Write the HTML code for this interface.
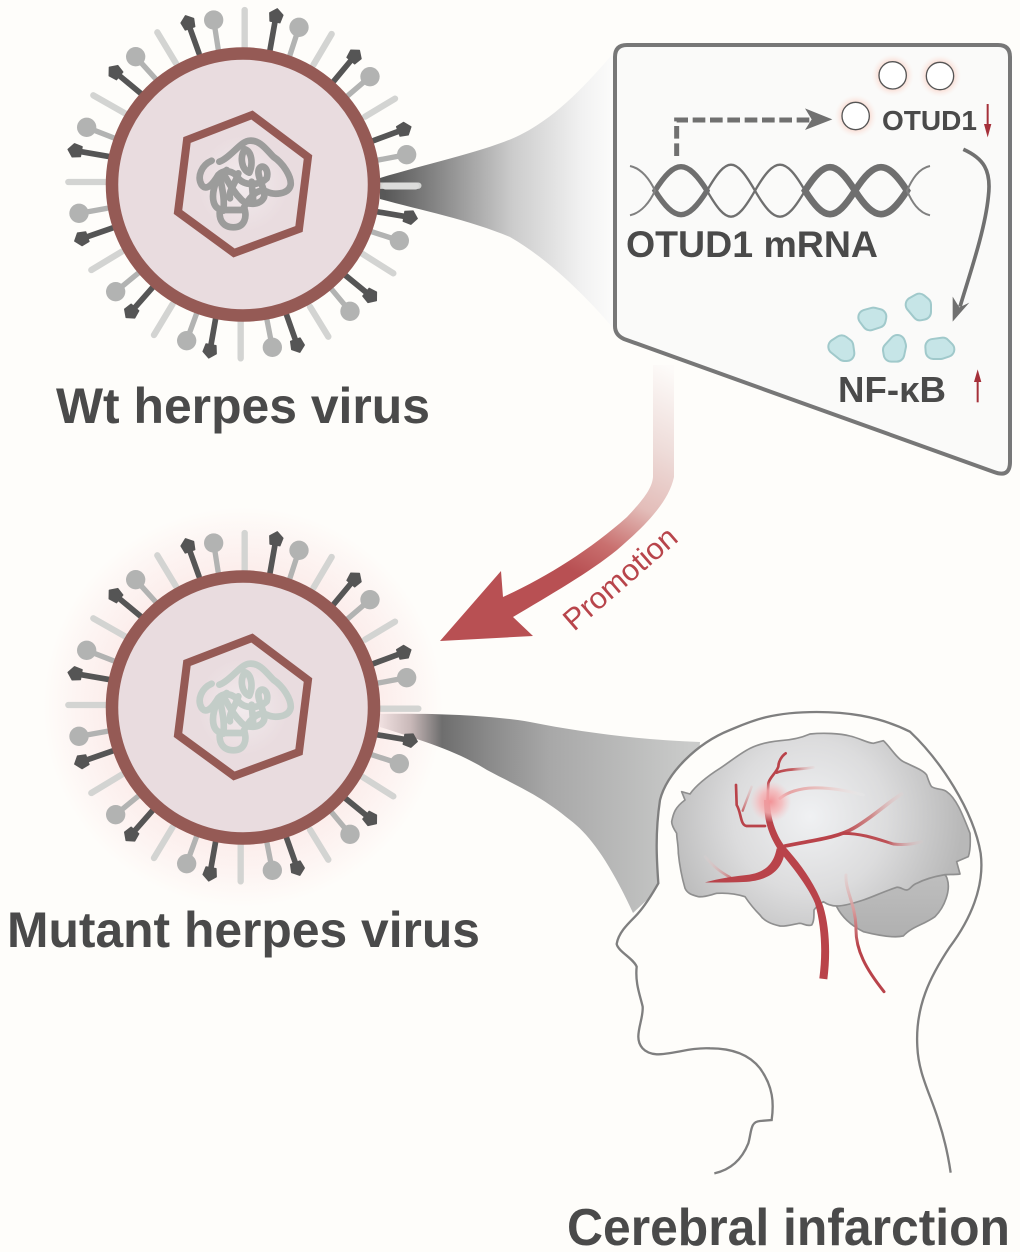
<!DOCTYPE html>
<html><head><meta charset="utf-8"><style>
html,body{margin:0;padding:0;background:#fefdfa}
svg{display:block;filter:blur(.35px)}
text{font-family:"Liberation Sans",sans-serif}
</style></head><body>
<svg width="1020" height="1252" viewBox="0 0 1020 1252" xmlns="http://www.w3.org/2000/svg">
<defs>
<linearGradient id="fan1" gradientUnits="userSpaceOnUse" x1="385" y1="0" x2="618" y2="0">
<stop offset="0" stop-color="#585858"/><stop offset=".25" stop-color="#8c8c8c"/><stop offset=".55" stop-color="#cccccc"/><stop offset=".85" stop-color="#f2f2f2"/><stop offset="1" stop-color="#fdfdfc"/>
</linearGradient>
<linearGradient id="fan2" gradientUnits="userSpaceOnUse" x1="380" y1="0" x2="690" y2="0">
<stop offset="0" stop-color="#f0e0e0"/><stop offset=".1" stop-color="#c8b8b8"/><stop offset=".2" stop-color="#6e6e6e"/><stop offset=".35" stop-color="#8a8a8a"/><stop offset=".55" stop-color="#a8a8a8"/><stop offset="1" stop-color="#cacbca"/>
</linearGradient>
<linearGradient id="arr" gradientUnits="userSpaceOnUse" x1="664" y1="365" x2="540" y2="610">
<stop offset="0" stop-color="#fdfbf9"/><stop offset=".28" stop-color="#eedcd9"/><stop offset=".5" stop-color="#e3bdb9"/><stop offset=".68" stop-color="#c9706f"/><stop offset=".82" stop-color="#b85053"/><stop offset="1" stop-color="#b85053"/>
</linearGradient>
<radialGradient id="glow" cx="243" cy="707" r="200" gradientUnits="userSpaceOnUse">
<stop offset=".65" stop-color="#fcecea"/><stop offset=".85" stop-color="#fdf5f3"/><stop offset="1" stop-color="#fefdfa"/>
</radialGradient>
<radialGradient id="inner" cx=".5" cy=".5" r=".5">
<stop offset="0" stop-color="#f2ebed"/><stop offset=".7" stop-color="#e9dcdf"/><stop offset="1" stop-color="#e9dcdf"/>
</radialGradient>
<radialGradient id="brainG" gradientUnits="userSpaceOnUse" cx="600" cy="290" r="460">
<stop offset="0" stop-color="#f0f1f3"/><stop offset=".5" stop-color="#dcdcdd"/><stop offset="1" stop-color="#b8b8b8"/>
</radialGradient>
<linearGradient id="cereb" gradientUnits="userSpaceOnUse" x1="850" y1="480" x2="850" y2="650">
<stop offset="0" stop-color="#bdbdbd"/><stop offset="1" stop-color="#b0b0b0"/>
</linearGradient>
<radialGradient id="hot" cx=".5" cy=".5" r=".5">
<stop offset="0" stop-color="#f29397"/><stop offset=".55" stop-color="#f6b6b8" stop-opacity=".8"/><stop offset="1" stop-color="#f6c8ca" stop-opacity="0"/>
</radialGradient>
<radialGradient id="pk" cx=".5" cy=".5" r=".5">
<stop offset=".6" stop-color="#f8d6cc"/><stop offset="1" stop-color="#fbf0ec" stop-opacity="0"/>
</radialGradient>
<linearGradient id="b1" gradientUnits="userSpaceOnUse" x1="500" y1="0" x2="615" y2="0"><stop offset="0" stop-color="#b9434a"/><stop offset=".4" stop-color="#c25a5e"/><stop offset="1" stop-color="#e8c8c8" stop-opacity=".2"/></linearGradient>
<linearGradient id="b2" gradientUnits="userSpaceOnUse" x1="510" y1="0" x2="765" y2="0"><stop offset="0" stop-color="#e59a9c"/><stop offset=".5" stop-color="#e8c4c2"/><stop offset="1" stop-color="#eee" stop-opacity=".2"/></linearGradient>
<linearGradient id="b3" gradientUnits="userSpaceOnUse" x1="690" y1="0" x2="880" y2="0"><stop offset="0" stop-color="#b9434a"/><stop offset=".5" stop-color="#cf8a8a"/><stop offset="1" stop-color="#e8d0d0" stop-opacity=".2"/></linearGradient>
<linearGradient id="b4" gradientUnits="userSpaceOnUse" x1="700" y1="0" x2="940" y2="0"><stop offset="0" stop-color="#b9434a"/><stop offset=".55" stop-color="#bd5156"/><stop offset="1" stop-color="#e8c8c8" stop-opacity=".1"/></linearGradient>
<linearGradient id="b6" gradientUnits="userSpaceOnUse" x1="370" y1="0" x2="280" y2="0"><stop offset="0" stop-color="#c86a6c"/><stop offset="1" stop-color="#eedada" stop-opacity=".1"/></linearGradient>
<linearGradient id="b7" gradientUnits="userSpaceOnUse" x1="0" y1="460" x2="0" y2="680"><stop offset="0" stop-color="#e8c0bf" stop-opacity=".3"/><stop offset=".5" stop-color="#d89c9c"/><stop offset="1" stop-color="#b9434a"/></linearGradient>
<linearGradient id="b8" gradientUnits="userSpaceOnUse" x1="0" y1="280" x2="0" y2="190"><stop offset="0" stop-color="#c25a5e"/><stop offset="1" stop-color="#e8c8c8" stop-opacity=".3"/></linearGradient>
<marker id="pent" markerUnits="userSpaceOnUse" orient="auto" viewBox="-30 -30 60 60" markerWidth="60" markerHeight="60" refX="0" refY="0">
<path d="M-18 -15 L6 -20 L22 0 L6 20 L-18 15Z" fill="#555" stroke="#555" stroke-width="4" stroke-linejoin="round"/>
</marker>
<g id="virus">
<g transform="translate(50 0) scale(.33333)" stroke-linecap="round">
<g stroke="#d3d4d2" stroke-width="19" fill="none">
<path d="M584 30V150M845 102L790 195M1035 296L945 350M1105 557H985M1030 820L935 760M835 1010L780 920M572 1075V960M312 1005L368 912M124 810L215 755M55 546H170M130 286L225 340M322 97L378 190"/>
</g>
<g stroke="#b2b3b2" stroke-width="16" fill="none">
<path d="M491 60L505 150M747 82L720 165M960 230L890 290M1070 464L985 480M1048 722L965 695M900 934L845 868M667 1042L650 955M410 1022L440 940M197 875L270 815M87 640L170 625M110 382L195 415M257 170L320 240"/>
</g>
<g fill="#b2b3b2">
<circle cx="491" cy="60" r="29"/><circle cx="747" cy="82" r="29"/><circle cx="960" cy="230" r="29"/><circle cx="1070" cy="464" r="29"/><circle cx="1048" cy="722" r="29"/><circle cx="900" cy="934" r="29"/><circle cx="667" cy="1042" r="29"/><circle cx="410" cy="1022" r="29"/><circle cx="197" cy="875" r="29"/><circle cx="87" cy="640" r="29"/><circle cx="110" cy="382" r="29"/><circle cx="257" cy="170" r="29"/>
</g>
<g stroke="#555" stroke-width="17" fill="none" marker-end="url(#pent)">
<line x1="447" y1="160" x2="414" y2="68"/><line x1="660" y1="150" x2="678" y2="48"/><line x1="850" y1="245" x2="914" y2="168"/><line x1="970" y1="422" x2="1062" y2="388"/><line x1="980" y1="635" x2="1080" y2="652"/><line x1="885" y1="825" x2="962" y2="888"/><line x1="708" y1="940" x2="742" y2="1036"/><line x1="497" y1="955" x2="480" y2="1052"/><line x1="308" y1="862" x2="243" y2="936"/><line x1="190" y1="683" x2="95" y2="716"/><line x1="180" y1="470" x2="76" y2="452"/><line x1="272" y1="280" x2="195" y2="216"/>
</g>
</g>
<circle cx="243" cy="184.5" r="131" fill="#e9dcdf" stroke="#955a55" stroke-width="12.5"/>
<path d="M252 115L308 157L299 229L234 253L178 212L187 140Z" fill="url(#inner)" stroke="#955a55" stroke-width="8" stroke-linejoin="miter"/>
<g transform="translate(170 120) scale(.33333)" fill="none" stroke="currentColor" stroke-width="20" stroke-linecap="round" stroke-linejoin="round">
<path d="M125 122C95 135 80 170 95 195C110 215 130 190 145 165C160 148 190 150 205 175C225 200 270 195 290 175C298 150 280 130 268 145C255 165 290 210 282 232C270 258 230 255 215 240C190 215 180 195 160 160"/>
<path d="M148 125C180 115 215 60 240 62C270 60 290 90 310 110C340 130 365 170 362 195C355 225 310 225 290 215C270 205 245 220 222 262C232 290 225 322 190 322C160 322 145 300 150 268"/>
<path d="M150 268C130 262 125 235 132 205C138 180 150 165 170 150M225 88C208 110 215 150 238 158C250 130 245 95 225 88ZM205 160C195 195 175 210 180 235M150 170C155 200 165 235 160 272M150 270H215M245 185L250 245"/>
</g>
</g>
</defs>

<rect width="1020" height="1252" fill="#fefdfa"/>

<!-- fans -->
<path d="M380 178C430 163 490 150 520 135C560 115 590 80 618 48L618 334C590 300 550 260 510 237C470 220 420 210 380 199Z" fill="url(#fan1)"/>
<circle cx="243" cy="707" r="200" fill="url(#glow)"/>
<path d="M380 714C430 713 490 715 530 722C580 732 640 740 700 742L690 860L633 913C610 863 590 835 570 820C540 795 515 785 487 770C455 750 420 740 380 727Z" fill="url(#fan2)"/>

<!-- viruses -->
<use href="#virus" style="color:#9c9c9b"/>
<use href="#virus" y="523" style="color:#c3cdc8"/>
<rect x="382" y="182.500" width="37" height="7" rx="3.500" fill="#dcdcdb"/>

<!-- inset box -->
<path d="M627 45H998Q1010 45 1010 57V462Q1010 478 994 472L624 339Q615 335 615 326V57Q615 45 627 45Z" fill="#fafaf9" stroke="#777" stroke-width="4"/>
<g transform="translate(600 30) scale(.33333)">
<circle cx="878" cy="136" r="64" fill="url(#pk)"/>
<circle cx="1020" cy="138" r="64" fill="url(#pk)"/>
<circle cx="767" cy="258" r="64" fill="url(#pk)"/>
<circle cx="878" cy="136" r="41" fill="#fff" stroke="#555" stroke-width="4"/>
<circle cx="1020" cy="138" r="41" fill="#fff" stroke="#555" stroke-width="4"/>
<circle cx="767" cy="258" r="41" fill="#fff" stroke="#555" stroke-width="4"/>
<!-- dashed arrow -->
<path d="M230 378V270H640" fill="none" stroke="#707070" stroke-width="15" stroke-dasharray="38 14"/>
<path d="M697 268L615 235L635 268L615 300Z" fill="#707070"/>
<!-- helix -->
<g fill="none" stroke="#6f6f6f">
<g stroke-width="7">
<path d="M321 482C381 378 405 378 465 482C405 586 381 586 321 482Z"/>
<path d="M465 482C525 378 555 378 615 482C555 586 525 586 465 482Z"/>
</g>
<g stroke-width="20">
<path d="M165 482C225 386 261 386 321 482C261 578 225 578 165 482Z" stroke-width="16"/>
<path d="M615 482C675 388 705 388 765 482C705 576 675 576 615 482Z"/>
<path d="M765 482C825 388 861 388 921 482C861 576 825 576 765 482Z"/>
</g>
</g>
<path d="M90 408C125 415 150 450 165 482C150 515 125 548 90 556M990 408C955 415 935 450 921 482C935 515 955 548 990 556" fill="none" stroke="#808080" stroke-width="6"/>
<!-- curved arrow -->
<path d="M1090 358C1150 385 1175 420 1165 500C1155 600 1110 730 1080 830" fill="none" stroke="#707070" stroke-width="11"/>
<path d="M1058 875L1108 818L1078 832L1058 800Z" fill="#707070"/>
<!-- blobs -->
<g fill="#a0c9cb" stroke="#a0c9cb" stroke-width="52" stroke-linejoin="round">
<path d="M798 862L820 856L836 860L834 870L810 878Z"/>
<path d="M940 824L958 814L970 824L970 846L960 848Z"/>
<path d="M708 950L725 939L737 948L740 970L733 970Z"/>
<path d="M872 960L892 938L895 948L890 972L874 972Z"/>
<path d="M999 950L1028 946L1040 958L1022 964L1000 964Z"/>
</g>
<g fill="#c6e5e7" stroke="#c6e5e7" stroke-width="40" stroke-linejoin="round">
<path d="M798 862L820 856L836 860L834 870L810 878Z"/>
<path d="M940 824L958 814L970 824L970 846L960 848Z"/>
<path d="M708 950L725 939L737 948L740 970L733 970Z"/>
<path d="M872 960L892 938L895 948L890 972L874 972Z"/>
<path d="M999 950L1028 946L1040 958L1022 964L1000 964Z"/>
</g>
<!-- red small arrows -->
<path d="M1163 222V290" stroke="#a5303a" stroke-width="6" fill="none"/>
<path d="M1163 322L1152 282H1174Z" fill="#a5303a"/>
<path d="M1133 1117V1050" stroke="#a5303a" stroke-width="6" fill="none"/>
<path d="M1133 1018L1122 1056H1144Z" fill="#a5303a"/>
</g>
<text x="882" y="130" font-size="27.500" font-weight="700" fill="#4a4a4a" textLength="95" lengthAdjust="spacingAndGlyphs">OTUD1</text>
<text x="626" y="257" font-size="37" font-weight="700" fill="#4a4a4a" textLength="252" lengthAdjust="spacingAndGlyphs">OTUD1 mRNA</text>
<text x="838" y="402" font-size="36" font-weight="700" fill="#4a4a4a" textLength="108" lengthAdjust="spacingAndGlyphs">NF-κB</text>

<!-- promotion arrow -->
<path d="M653 365H674V477C668 505 640 530 617 550C590 572 550 595 513 617L533 636L440 641L501 571L503 597C545 578 590 550 627 517C640 503 652 490 653 477Z" fill="url(#arr)"/>
<text transform="translate(574 632) rotate(-41)" font-size="30" fill="#b8454b" textLength="140" lengthAdjust="spacingAndGlyphs">Promotion</text>

<!-- head + brain -->
<g transform="translate(610 720) scale(.33333)">
<path d="M145 490C140 420 135 340 150 240C170 160 260 70 360 30C420 5 480 -24 620 -24C700 -24 800 -15 900 35C990 120 1090 270 1112 400C1125 500 1080 600 1020 680C960 770 915 860 922 980C925 1060 960 1120 985 1200C1005 1260 1015 1310 1022 1358L313 1360C360 1350 395 1320 415 1270C425 1235 420 1205 450 1203L485 1200C492 1150 490 1100 450 1045C415 1000 360 985 300 985C240 982 190 1003 140 1003C100 1000 85 975 85 950C85 920 100 890 98 860C90 825 75 790 80 740C70 715 25 695 20 672C25 640 50 615 75 590C100 565 125 525 145 490Z" fill="#fefdfa" stroke="none"/>
<path d="M313 1360C360 1350 395 1320 415 1270C425 1235 420 1205 450 1203L485 1200C492 1150 490 1100 450 1045C415 1000 360 985 300 985C240 982 190 1003 140 1003C100 1000 85 975 85 950C85 920 100 890 98 860C90 825 75 790 80 740C70 715 25 695 20 672C25 640 50 615 75 590C100 565 125 525 145 490C140 420 135 340 150 240C170 160 260 70 360 30C420 5 480 -24 620 -24C700 -24 800 -15 900 35C990 120 1090 270 1112 400C1125 500 1080 600 1020 680C960 770 915 860 922 980C925 1060 960 1120 985 1200C1005 1260 1015 1310 1022 1358" fill="none" stroke="#7f7f7f" stroke-width="7"/>
<path d="M680 540C760 525 880 480 940 460C975 450 1005 450 1012 478C1022 510 1005 560 975 590C940 615 905 620 880 648C850 655 800 645 760 635C720 615 695 590 680 560Z" fill="url(#cereb)" stroke="#8f8f8f" stroke-width="5"/>
<path d="M185 305C190 280 195 262 225 240L215 215L240 222C255 200 290 170 330 145C360 125 390 100 420 85C450 70 480 65 510 62C545 60 570 55 600 42C640 38 690 40 720 48C750 55 770 68 790 70L820 62C840 80 860 115 880 125C910 140 940 150 950 165C955 180 960 195 965 200C980 210 1000 205 1010 215C1040 235 1060 290 1080 340C1082 370 1080 395 1075 410L1040 425L1050 462C1030 465 1010 462 1000 465C970 470 940 480 920 490C905 495 900 510 890 510C880 510 870 500 860 502C820 515 790 530 760 540C730 550 700 558 680 558C665 558 650 552 640 545C625 555 615 565 612 570C612 590 612 605 605 615C590 620 580 610 570 610C550 612 530 620 510 618C480 612 460 600 450 585C430 565 415 545 405 530C380 522 350 518 320 520C300 525 285 532 265 530C245 525 232 520 225 505C215 470 208 430 205 400C205 375 200 355 200 340C190 325 185 315 185 305Z" fill="url(#brainG)" stroke="#8f8f8f" stroke-width="5" stroke-linejoin="round"/>
<!-- arteries -->
<g fill="none" stroke-linecap="round" stroke-linejoin="round">
<path d="M708 465C705 510 735 550 738 620C735 690 770 750 822 815" stroke="url(#b7)" stroke-width="9"/>
<path d="M510 235C560 195 650 195 760 225" stroke="url(#b2)" stroke-width="9"/>
<path d="M360 472C330 455 310 440 285 410" stroke="url(#b6)" stroke-width="8"/>
<path d="M500 158C530 145 570 150 610 142" stroke="url(#b1)" stroke-width="8"/>
<path d="M525 378C600 362 680 355 730 325C790 290 830 250 875 222" stroke="url(#b3)" stroke-width="11"/>
<path d="M700 340C760 340 810 360 850 372C880 376 910 372 935 365" stroke="url(#b4)" stroke-width="9"/>
<path d="M398 272L425 200" stroke="url(#b8)" stroke-width="7"/>
<path d="M465 318H410C390 315 395 280 380 255L378 195" stroke="#b9434a" stroke-width="8"/>
<path d="M472 260L475 190C480 170 498 160 505 140C505 125 515 108 527 100" stroke="#b9434a" stroke-width="8"/>
</g>
<path d="M525 390C520 440 490 482 400 486C360 488 320 488 285 487C330 475 365 470 400 466C455 462 490 440 500 385Z" fill="#b9434a"/>
<path d="M480 240C480 290 495 340 525 380C570 430 615 490 640 560C658 620 662 700 652 778L628 775C638 700 635 620 615 550C590 490 530 420 505 390C480 350 462 310 462 240Z" fill="#b9434a"/>
<circle cx="482" cy="245" r="62" fill="url(#hot)"/>
</g>

<!-- labels -->
<text x="56" y="423" font-size="50" font-weight="700" fill="#4a4a4a" textLength="374" lengthAdjust="spacingAndGlyphs">Wt herpes virus</text>
<text x="7" y="947" font-size="50" font-weight="700" fill="#4a4a4a" textLength="473" lengthAdjust="spacingAndGlyphs">Mutant herpes virus</text>
<text x="567" y="1245" font-size="52" font-weight="700" fill="#4a4a4a" textLength="443" lengthAdjust="spacingAndGlyphs">Cerebral infarction</text>
</svg>
</body></html>
